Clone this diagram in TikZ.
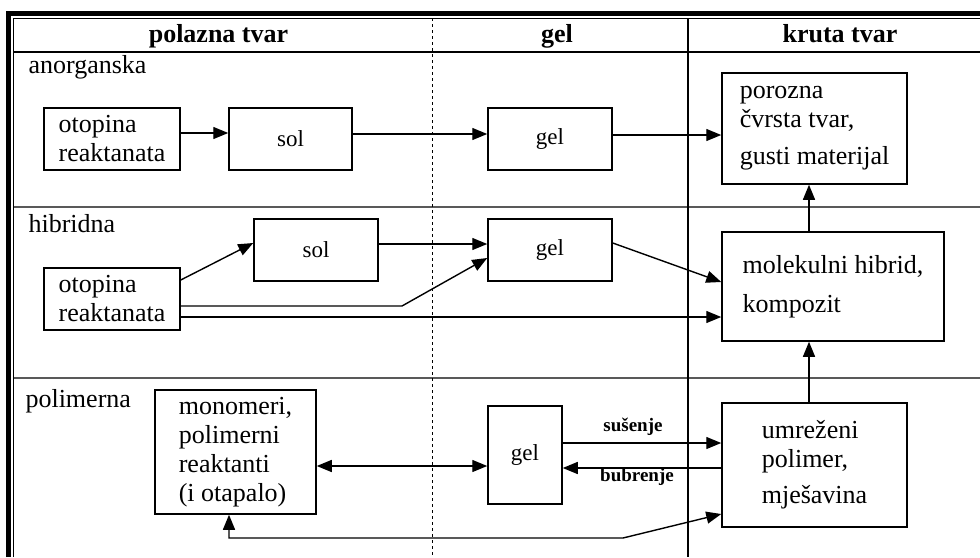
\documentclass[tikz,border=0pt]{standalone}
\usepackage{fontspec}
\setmainfont{Liberation Serif}
\usetikzlibrary{arrows.meta}
\begin{document}
\begin{tikzpicture}[x=1pt,y=-1pt,
  box/.style={draw=black,line width=1.5pt,inner sep=0pt,align=left,font=\fontsize{26}{29}\selectfont},
  smallbox/.style={draw=black,line width=1.5pt,inner sep=0pt,font=\fontsize{23}{26}\selectfont},
  arr/.style={line width=1.4pt,-{Triangle[length=15pt,width=12pt]}},
  darr/.style={line width=1.4pt,{Triangle[length=15pt,width=12pt]}-{Triangle[length=15pt,width=12pt]}},
  rowline/.style={line width=1.3pt,draw=black!65},
  hdr/.style={anchor=base,font=\fontsize{26}{29}\selectfont\bfseries},
  rowlab/.style={anchor=base west,font=\fontsize{26}{29}\selectfont},
  lab/.style={anchor=base,font=\fontsize{19}{22}\selectfont\bfseries}]
\useasboundingbox (0,0) rectangle (980,557);
% frame
\draw[line width=5pt] (8.5,557) -- (8.5,13.5) -- (980,13.5);
\draw[line width=1pt] (13.5,557) -- (13.5,18) -- (980,18);
% grid
\draw[line width=1.3pt] (13.5,52) -- (980,52);
\draw[rowline] (13.5,207) -- (980,207);
\draw[rowline] (13.5,378) -- (980,378);
\draw[line width=1pt,dash pattern=on 3pt off 3pt] (432,18) -- (432,557);
\draw[line width=1.4pt] (688,18) -- (688,557);
% headers
\node[hdr] (h1) at (218.5,42) {polazna tvar};
\node[hdr] (h2) at (557,42) {gel};
\node[hdr] (h3) at (840,42) {kruta tvar};
\node[rowlab] (r1) at (25,73) {anorganska};
\node[rowlab] (r2) at (25,232) {hibridna};
\node[rowlab] (r3) at (22,407) {polimerna};
% anorganska
\node[box,minimum width=136pt,minimum height=62pt] (otop1) at (112,139) {otopina\\reaktanata};
\node[smallbox,minimum width=123pt,minimum height=62pt] (sol1) at (290.5,139) {sol};
\node[smallbox,minimum width=124pt,minimum height=62pt] (gel1) at (550,139) {gel};
\node[box,minimum width=185pt,minimum height=111pt] (poro) at (814.5,128.5) {porozna\\čvrsta tvar,\\[8pt]gusti materijal};
% hibridna
\node[smallbox,minimum width=124pt,minimum height=62pt] (sol2) at (316,250) {sol};
\node[box,minimum width=136pt,minimum height=62pt] (otop2) at (112,299) {otopina\\reaktanata};
\node[smallbox,minimum width=124pt,minimum height=62pt] (gel2) at (550,250) {gel};
\node[box,minimum width=222pt,minimum height=109pt] (mol) at (833,286.5) {molekulni hibrid,\\[10pt]kompozit};
% polimerna
\node[box,minimum width=161pt,minimum height=124pt] (mono) at (235.5,452) {monomeri,\\polimerni\\reaktanti\\(i otapalo)};
\node[smallbox,minimum width=74pt,minimum height=98pt] (gel3) at (525,455) {gel};
\node[box,minimum width=185pt,minimum height=124pt] (umr) at (814.5,465) {umreženi\\polimer,\\[7pt]mješavina};
% connectors anorganska
\draw[arr] (otop1.east |- 0,133) -- (sol1.west |- 0,133);
\draw[arr] (sol1.east |- 0,134) -- (gel1.west |- 0,134);
\draw[arr] (gel1.east |- 0,135) -- (poro.west |- 0,135);
% connectors hibridna
\draw[arr] (otop2.east |- 0,280) -- (sol2.west |- 0,243);
\draw[arr] (sol2.east |- 0,244) -- (gel2.west |- 0,244);
\coordinate (k1) at (402,306);
\draw[arr] (otop2.east |- 0,306) -- (k1) -- (gel2.west |- 0,258);
\draw[arr] (otop2.east |- 0,317) -- (mol.west |- 0,317);
\draw[arr] (gel2.east |- 0,243) -- (mol.west |- 0,282);
\draw[arr] (mol.north -| 809,0) -- (poro.south -| 809,0);
\draw[arr] (umr.north -| 809,0) -- (mol.south -| 809,0);
% connectors polimerna
\draw[darr] (mono.east |- 0,466) -- (gel3.west |- 0,466);
\draw[arr] (gel3.east |- 0,443) -- (umr.west |- 0,443);
\draw[arr] (umr.west |- 0,468) -- (gel3.east |- 0,468);
\node[lab] (l1) at (633,431) {sušenje};
\node[lab] (l2) at (637,481) {bubrenje};
\coordinate (k2) at (229,538);
\coordinate (k3) at (623,538);
\draw[darr] (mono.south -| 229,0) -- (k2) -- (k3) -- (umr.west |- 0,514);
\end{tikzpicture}
\end{document}
